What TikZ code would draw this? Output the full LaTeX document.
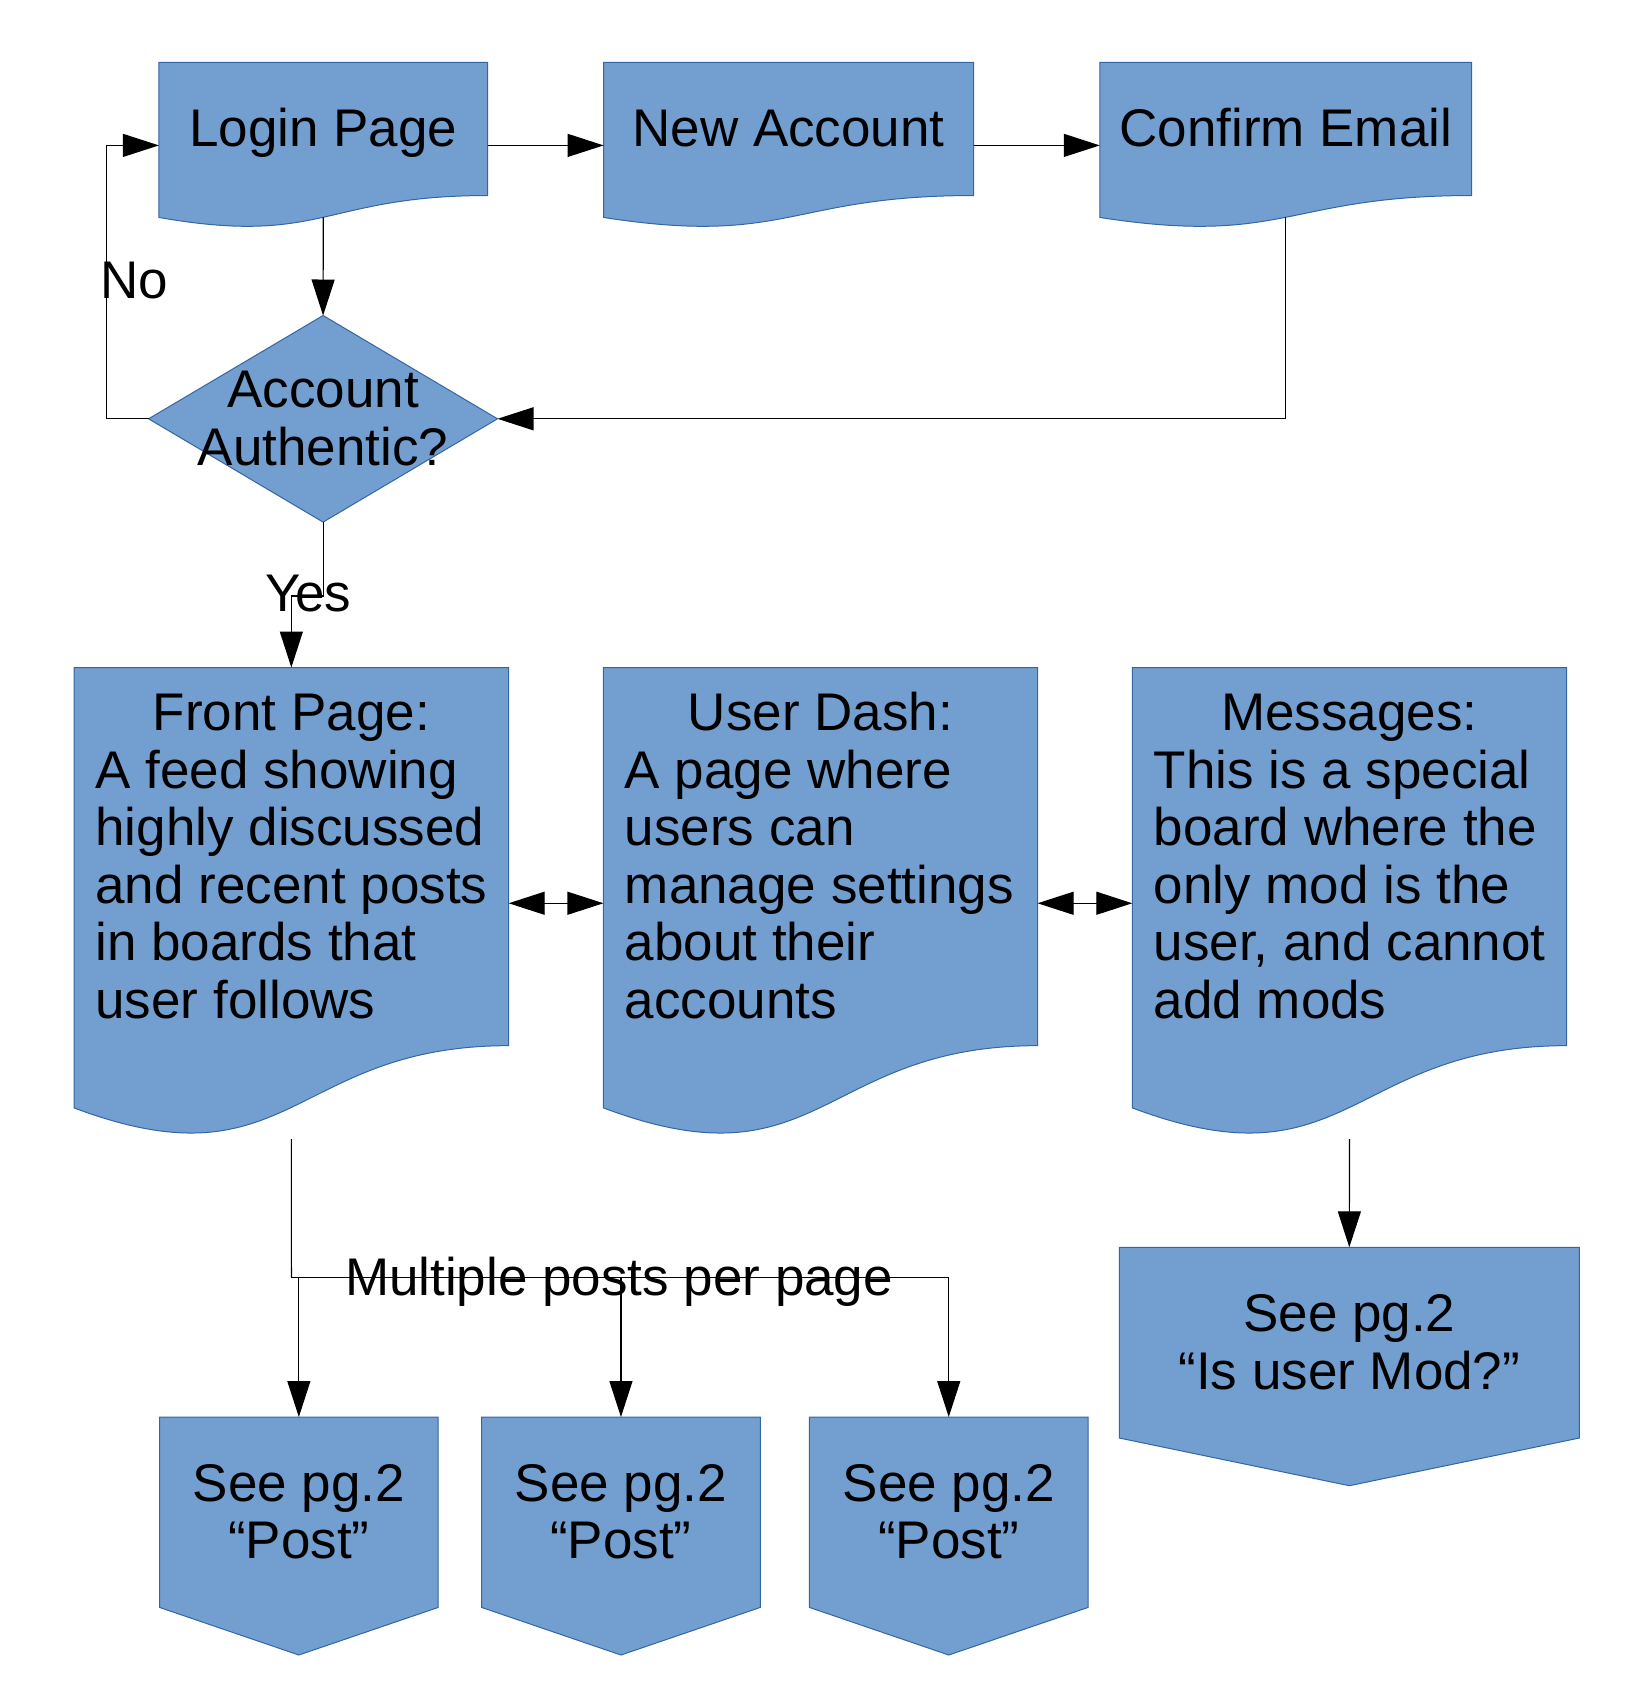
\documentclass[tikz,border=0pt]{standalone}
\usepackage{fontspec}
\setmainfont{Liberation Sans}
\usetikzlibrary{arrows.meta}
\definecolor{boxfill}{HTML}{729FCF}
\definecolor{boxline}{HTML}{3465A4}
\newcommand{\lst}{\rule[-11pt]{0pt}{57.5pt}}
% document shape: name, x0, y0, w, h
\newcommand{\docshape}[5]{%
  \path[shapestyle] (#2,#3) -- ({#2+#4},#3) -- ({#2+#4},{#3+0.802*#5})
    .. controls ({#2+0.5*#4},{#3+0.802*#5}) and ({#2+0.5*#4},{#3+1.1075*#5}) .. (#2,{#3+0.934*#5}) -- cycle;
  \node[frame, minimum width=#4pt, minimum height=#5pt] (#1) at ({#2+0.5*#4},{#3+0.5*#5}) {};
  \coordinate (#1-wave) at ({#2+0.5*#4},{#3+0.933*#5});
}
% off-page connector shape: name, x0, y0, w, h
\newcommand{\offpage}[5]{%
  \path[shapestyle] (#2,#3) -- ({#2+#4},#3) -- ({#2+#4},{#3+0.8*#5}) -- ({#2+0.5*#4},{#3+#5}) -- (#2,{#3+0.8*#5}) -- cycle;
  \node[frame, minimum width=#4pt, minimum height=#5pt] (#1) at ({#2+0.5*#4},{#3+0.5*#5}) {};
}
\tikzset{
  shapestyle/.style={fill=boxfill, draw=boxline, line width=1pt, line join=miter},
  frame/.style={inner sep=0pt, outer sep=0pt, draw=none, fill=none},
  txt/.style={inner sep=0pt, outer sep=0pt, font=\fontsize{53pt}{57.5pt}\selectfont, align=center},
  lbl/.style={inner sep=0pt, outer sep=0pt, font=\fontsize{53pt}{57.5pt}\selectfont},
  conn/.style={draw=black, line width=1.2pt, -{Triangle[length=36pt,width=23pt]}},
  dconn/.style={draw=black, line width=1.2pt, {Triangle[length=36pt,width=23pt]}-{Triangle[length=36pt,width=23pt]}},
  plain/.style={draw=black, line width=1.2pt}
}
\begin{document}
\begin{tikzpicture}[x=1pt, y=-1pt]
\useasboundingbox (0,0) rectangle (1632,1708);

% top row
\docshape{login}{158.9}{62.4}{328.6}{166}
\docshape{newacc}{603.6}{62.4}{369.9}{166}
\docshape{confirm}{1099.8}{62.4}{371.8}{166}
\node[txt] (login-t) at (323.2,129) {\lst Login Page};
\node[txt] (newacc-t) at (788.5,129) {\lst New Account};
\node[txt] (confirm-t) at (1285.7,129) {\lst Confirm Email};

% decision
\path[shapestyle] (148.6,418.8) -- (323.1,315.5) -- (497.5,418.8) -- (323.1,522.1) -- cycle;
\node[frame, minimum width=348.9pt, minimum height=206.6pt] (auth) at (323.1,418.8) {};
\node[txt] (auth-t) at (323.1,418.8) {\lst Account\\Authentic?\lst};

% middle row
\docshape{front}{74}{667.5}{434.7}{471.5}
\docshape{dash}{603.4}{667.5}{434.2}{471.5}
\docshape{msg}{1132.3}{667.5}{434.4}{471.5}
\node[txt, align=left, anchor=west] (front-t) at (95.5,856.6)
  {\lst\makebox[391.7pt]{Front Page:}\\A feed showing\\highly discussed\\and recent posts\\in boards that\\user follows\lst};
\node[txt, align=left, anchor=west] (dash-t) at (624.9,856.6)
  {\lst\makebox[391.2pt]{User Dash:}\\A page where\\users can\\manage settings\\about their\\accounts\lst};
\node[txt, align=left, anchor=west] (msg-t) at (1153.8,856.6)
  {\lst\makebox[391.4pt]{Messages:}\\This is a special\\board where the\\only mod is the\\user, and cannot\\add mods\lst};

% bottom row
\offpage{post1}{159.5}{1417}{278.7}{238}
\offpage{post2}{481.6}{1417}{278.7}{238}
\offpage{post3}{809.4}{1417}{278.7}{238}
\offpage{mod}{1119.3}{1247.3}{460}{238.4}
\node[txt] (post1-t) at (298.9,1512.2) {\lst See pg.2\\“Post”\lst};
\node[txt] (post2-t) at (620.9,1512.2) {\lst See pg.2\\“Post”\lst};
\node[txt] (post3-t) at (948.8,1512.2) {\lst See pg.2\\“Post”\lst};
\node[txt] (mod-t) at (1349.3,1342.7) {\lst See pg.2\\“Is user Mod?”\lst};

% connectors
\draw[conn] (login.east) -- (newacc.west);
\draw[conn] (newacc.east) -- (confirm.west);
\draw[conn] (login-wave) -- (auth.north);
\draw[conn] (confirm-wave) |- (auth.east);
\coordinate (nocorner) at (106.4,418.8);
\draw[conn] (auth.west) -- (nocorner) |- (login.west);
\coordinate (yescorner) at (323.1,596);
\draw[conn] (auth.south) -- (yescorner) -| (front.north);
\draw[dconn] (front.east) -- (dash.west);
\draw[dconn] (dash.east) -- (msg.west);
\draw[conn] (msg.south) -- (mod.north);
\coordinate (split) at (291.4,1277.3);
\draw[plain] (front.south) -- (split);
\draw[conn] (split) -| (post3.north);
\draw[conn] (split) -| (post2.north);
\draw[conn] (split) -| (post1.north);

% labels
\node[lbl, anchor=base west] (nolbl) at (100,298.3) {No};
\node[lbl, anchor=base west] (yeslbl) at (265,611.5) {Yes};
\node[lbl, anchor=base] (multlbl) at (619,1295) {Multiple posts per page};
\end{tikzpicture}
\end{document}
